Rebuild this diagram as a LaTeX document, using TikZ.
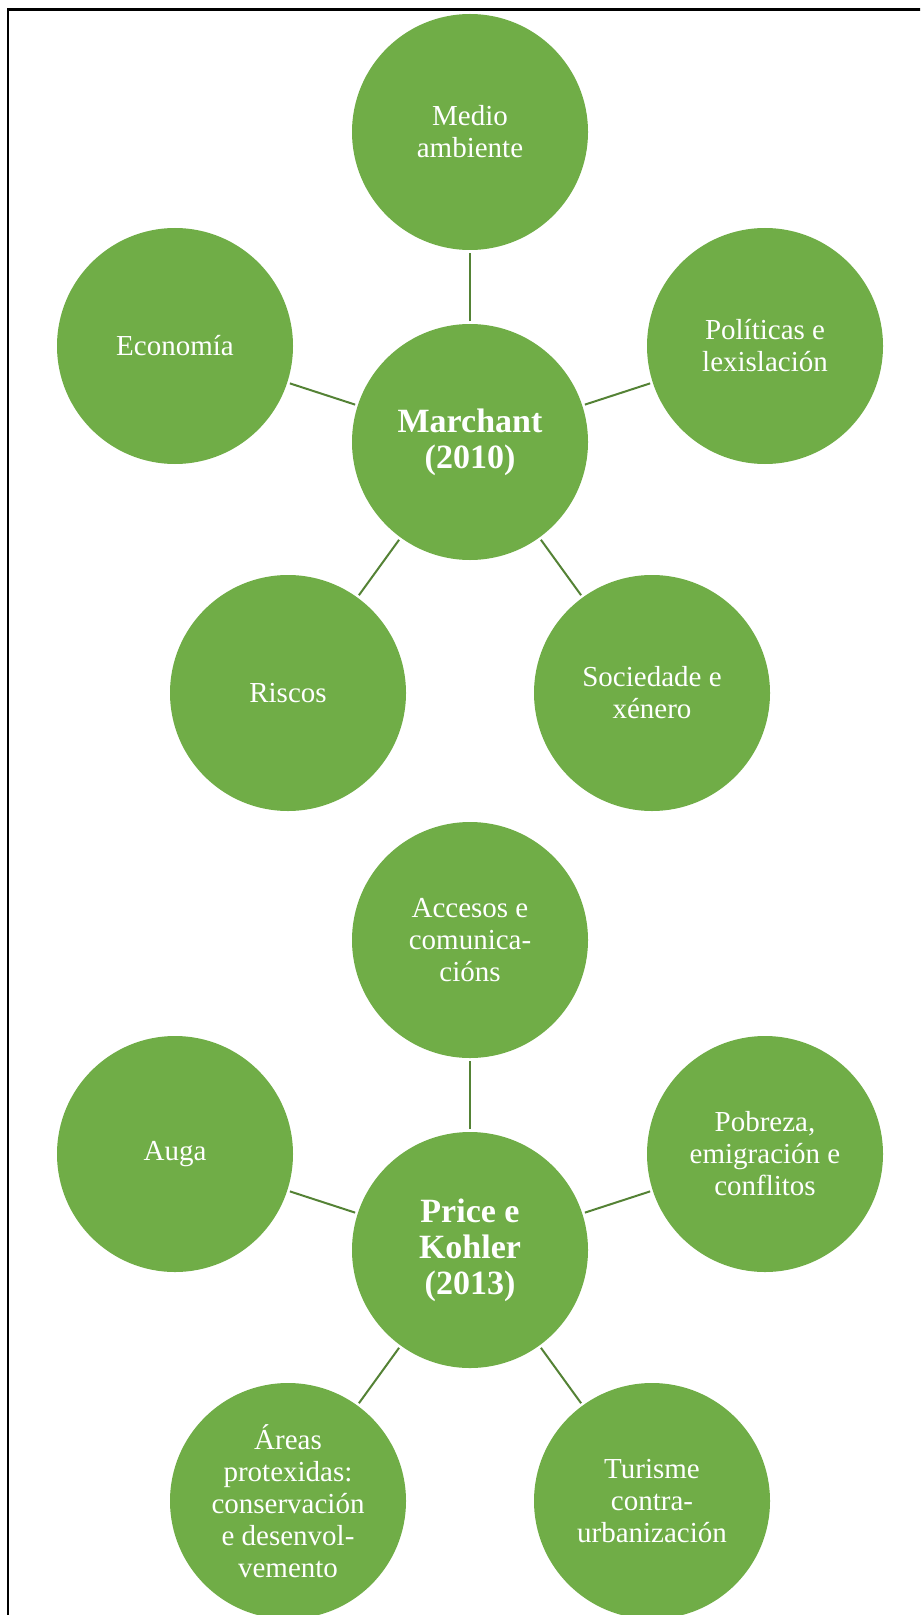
\documentclass[tikz,border=0pt]{standalone}
\usepackage{fontspec}
\setmainfont{Liberation Serif}
\usepackage{tikz}
\definecolor{leafgreen}{HTML}{70AD47}
\definecolor{stemgreen}{HTML}{548235}
\tikzset{
  topic/.style={circle, fill=leafgreen, text=white, minimum size=118pt, inner sep=0pt,
    align=center, font=\fontsize{14.5pt}{16pt}\selectfont},
  hub/.style={topic, font=\fontsize{17pt}{18pt}\selectfont\bfseries},
  link/.style={draw=stemgreen, line width=1pt, shorten <=1.2pt, shorten >=1.2pt}
}
\begin{document}
\begin{tikzpicture}[x=0.5pt,y=-0.5pt]
   \useasboundingbox (0,0) rectangle (920,1615);
   \clip (0,0) rectangle (920,1615);
   \draw[line width=1.2pt] (8,1630) -- (8,9.5) -- (930,9.5);

   % first cluster
   \draw (470,442) node[hub] (marchant) {Marchant\\(2010)};
     \draw (470,132) node[topic] (medio) {Medio\\ambiente};
     \draw (175,346) node[topic] (economia) {Economía};
     \draw (765,346) node[topic] (politicas) {Políticas e\\lexislación};
     \draw (288,693) node[topic] (riscos) {Riscos};
     \draw (652,693) node[topic] (sociedade) {Sociedade e\\xénero};

     \path[link] (marchant) edge (medio);
     \path[link] (marchant) edge (economia);
     \path[link] (marchant) edge (politicas);
     \path[link] (marchant) edge (riscos);
     \path[link] (marchant) edge (sociedade);

   % second cluster
   \draw (470,1250) node[hub] (price) {Price e\\Kohler\\(2013)};
     \draw (470,940) node[topic] (accesos) {Accesos e\\comunica-\\cións};
     \draw (175,1154) node[topic] (auga) {Auga};
     \draw (765,1154) node[topic] (pobreza) {Pobreza,\\emigración e\\conflitos};
     \draw (288,1501) node[topic] (areas) {Áreas\\protexidas:\\conservación\\e desenvol-\\vemento};
     \draw (652,1501) node[topic] (turisme) {Turisme\\contra-\\urbanización};

     \path[link] (price) edge (accesos);
     \path[link] (price) edge (auga);
     \path[link] (price) edge (pobreza);
     \path[link] (price) edge (areas);
     \path[link] (price) edge (turisme);
\end{tikzpicture}
\end{document}
